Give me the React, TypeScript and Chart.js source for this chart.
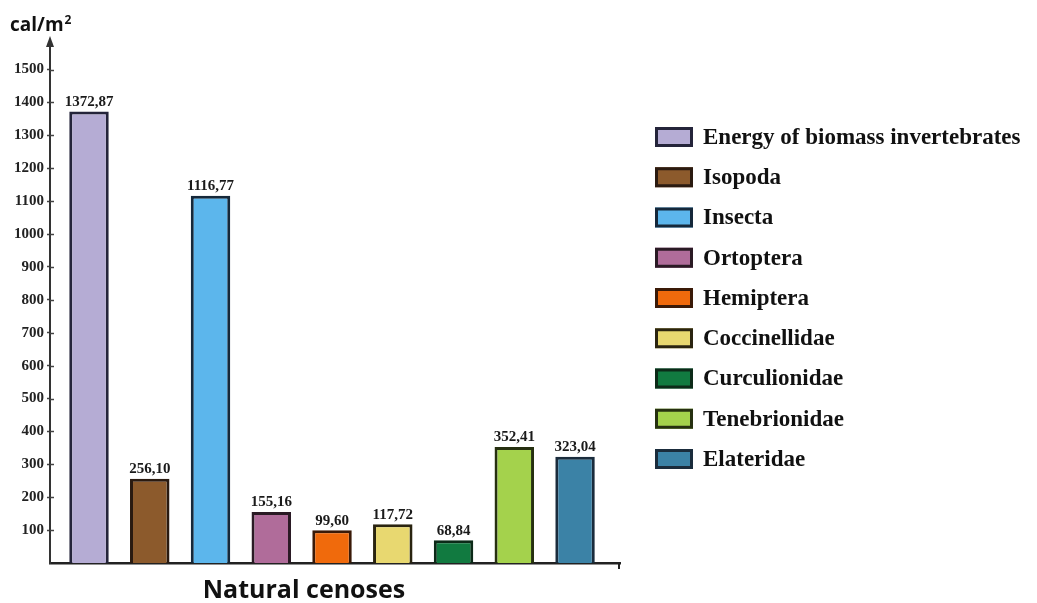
import { useEffect, useRef } from 'react';
import { Chart, registerables } from 'chart.js';

Chart.register(...registerables);

// Energy of invertebrate biomass in natural cenoses, cal/m²
const groups = [
  'Energy of biomass invertebrates',
  'Isopoda',
  'Insecta',
  'Ortoptera',
  'Hemiptera',
  'Coccinellidae',
  'Curculionidae',
  'Tenebrionidae',
  'Elateridae',
];
const energy = [1372.87, 256.1, 1116.77, 155.16, 99.6, 117.72, 68.84, 352.41, 323.04];
const fillColors = ['#b5acd4', '#8c5a2c', '#5cb6ec', '#b06c9a', '#f06a0c', '#e8d870', '#117a40', '#a4d24c', '#3b82a6'];
const edgeColors = ['#24243a', '#2a1a10', '#15283a', '#2a1a24', '#3a1a08', '#2a2410', '#0c2a18', '#263010', '#1a2c3c'];
const yTicks = [100, 200, 300, 400, 500, 600, 700, 800, 900, 1000, 1100, 1200, 1300, 1400, 1500];
const yUnit = 'cal/m';
const yUnitPower = '2';
const xTitle = 'Natural cenoses';

const SERIF = '"Liberation Serif", "Times New Roman", serif';
const SANS = '"Open Sans", "Noto Sans", sans-serif';

const fmt = (v: number) => v.toFixed(2).replace('.', ',');

const decor = {
  id: 'decor',
  afterDatasetsDraw(chart: any) {
    const ctx = chart.ctx;
    const meta = chart.getDatasetMeta(0);
    ctx.save();
    ctx.font = `bold 15px ${SERIF}`;
    ctx.fillStyle = '#1a1a1a';
    ctx.textAlign = 'center';
    ctx.textBaseline = 'bottom';
    meta.data.forEach((bar: any, i: number) => {
      ctx.fillText(fmt(energy[i]), bar.x, bar.y - 2);
    });
    ctx.restore();
  },
  afterDraw(chart: any) {
    const { ctx, chartArea, scales } = chart;
    const y = scales.y;
    const left = chartArea.left;
    ctx.save();

    // tick stubs on the inner side of the value axis
    ctx.strokeStyle = '#444';
    ctx.lineWidth = 1.5;
    y.ticks.forEach((t: any) => {
      const py = Math.round(y.getPixelForValue(t.value)) + 0.5;
      ctx.beginPath();
      ctx.moveTo(left, py);
      ctx.lineTo(left + 4, py);
      ctx.stroke();
    });

    // arrow head on the value axis
    ctx.fillStyle = '#333';
    ctx.beginPath();
    ctx.moveTo(left, chartArea.top - 4);
    ctx.lineTo(left - 4, chartArea.top + 7);
    ctx.lineTo(left + 4, chartArea.top + 7);
    ctx.closePath();
    ctx.fill();

    // end mark of the category axis
    ctx.strokeStyle = '#222';
    ctx.lineWidth = 2;
    ctx.beginPath();
    ctx.moveTo(chartArea.right - 1, chartArea.bottom);
    ctx.lineTo(chartArea.right - 1, chartArea.bottom + 6);
    ctx.stroke();

    // unit label
    ctx.fillStyle = '#111';
    ctx.textAlign = 'left';
    ctx.textBaseline = 'alphabetic';
    ctx.font = `bold 19px ${SANS}`;
    ctx.fillText(yUnit, 10, 31);
    const w = ctx.measureText(yUnit).width;
    ctx.font = `bold 12px ${SANS}`;
    ctx.fillText(yUnitPower, 10 + w + 1, 24);

    // axis title
    ctx.font = `bold 25px ${SANS}`;
    ctx.textAlign = 'center';
    ctx.fillText(xTitle, 304, 598);

    // legend
    const lx = 655;
    const ly = 137;
    const step = 40.25;
    groups.forEach((g, i) => {
      const cy = ly + i * step;
      ctx.fillStyle = fillColors[i];
      ctx.fillRect(lx, cy - 10, 38, 20);
      ctx.strokeStyle = edgeColors[i];
      ctx.lineWidth = 3;
      ctx.strokeRect(lx + 1.5, cy - 8.5, 35, 17);
      ctx.fillStyle = '#111';
      ctx.font = `bold 23px ${SERIF}`;
      ctx.textAlign = 'left';
      ctx.textBaseline = 'middle';
      ctx.fillText(g, lx + 48, cy + 1);
    });

    ctx.restore();
  },
};

export default function App() {
  const ref = useRef<HTMLCanvasElement>(null);

  useEffect(() => {
    if (!ref.current) return;
    const chart = new Chart(ref.current, {
      type: 'bar',
      data: {
        datasets: [
          {
            label: 'Energy',
            data: energy.map((v, i) => ({ x: i, y: v })),
            backgroundColor: fillColors,
            borderColor: edgeColors,
            borderWidth: 3,
            borderSkipped: 'start',
            barPercentage: 0.65,
            categoryPercentage: 1,
          },
        ],
      },
      options: {
        responsive: false,
        animation: false,
        layout: { padding: { top: 40, right: 417, left: 0, bottom: 0 } },
        plugins: {
          legend: { display: false },
          tooltip: { enabled: false },
        },
        scales: {
          x: {
            type: 'linear',
            offset: false,
            min: -0.642,
            max: 8.74,
            afterBuildTicks: (s: any) => {
              s.ticks = energy.map((_, i) => ({ value: i }));
            },
            ticks: { display: false },
            grid: { display: false, offset: false },
            border: { display: true, color: '#222', width: 2.5 },
            afterFit: (s: any) => {
              s.height = 40;
            },
          },
          y: {
            type: 'linear',
            min: 0,
            max: 1590,
            afterBuildTicks: (s: any) => {
              s.ticks = yTicks.map((v) => ({ value: v }));
            },
            ticks: {
              font: { family: SERIF, weight: 'bold', size: 15 },
              color: '#222',
              padding: 3,
              callback: (v: any) => String(v),
            },
            grid: {
              drawOnChartArea: false,
              tickLength: 3,
              tickColor: '#444',
              tickWidth: 1.5,
            },
            border: { display: true, color: '#333', width: 2 },
            afterFit: (s: any) => {
              s.width = 50;
            },
          },
        },
      },
      plugins: [decor],
    } as any);
    return () => chart.destroy();
  }, []);

  return (
    <div style={{ position: 'fixed', left: 0, top: 0, width: 1037, height: 603, background: '#fff' }}>
      <canvas ref={ref} width={1037} height={603} style={{ display: 'block' }} />
    </div>
  );
}
